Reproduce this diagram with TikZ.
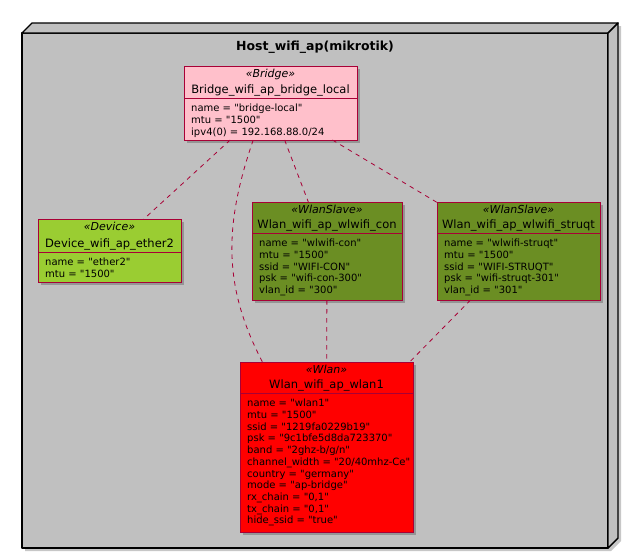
\documentclass[tikz,border=0pt]{standalone}
\usepackage{fontspec}
\setmainfont{DejaVu Sans}
\usetikzlibrary{shadows,calc}
\newcommand{\dq}{\XeTeXglyph\XeTeXcharglyph"22\relax}
\definecolor{umlborder}{HTML}{A80036}
\definecolor{hostfill}{HTML}{C0C0C0}
\definecolor{pinkc}{HTML}{FFC0CB}
\definecolor{ygreenc}{HTML}{9ACD32}
\definecolor{olivec}{HTML}{6B8E23}
\definecolor{redc}{HTML}{FF0000}
\tikzset{
  classbox/.style={draw=umlborder, line width=1pt, rectangle, inner sep=0pt, outer sep=0pt,
    drop shadow={shadow xshift=3pt, shadow yshift=-3pt, fill=black, opacity=0.22}},
  hostface/.style={draw=black, fill=hostfill, line width=1.4pt, line join=round},
  stereo/.style={font=\fontsize{11}{13}\selectfont\itshape, anchor=base, inner sep=0pt},
  cname/.style={font=\fontsize{11.5}{13}\selectfont, anchor=base, inner sep=0pt},
  attrs/.style={font=\fontsize{10}{11.7}\selectfont, anchor=north west, align=left, inner sep=0pt},
  sepline/.style={draw=umlborder, line width=1pt},
  link/.style={draw=umlborder, line width=0.8pt, dash pattern=on 4.5pt off 4.5pt},
}
\begin{document}
\begin{tikzpicture}[x=1pt,y=-1pt]
\useasboundingbox (0,0) rectangle (628,558);
% host node (3D box)
\fill[black,opacity=0.22] (25,36) -- (35,26) -- (621,26) -- (621,541) -- (611,551) -- (25,551) -- cycle;
\node[hostface, rectangle, inner sep=0pt, outer sep=0pt, minimum width=586pt, minimum height=515pt] (host) at (315,290.5) {};
\draw[hostface] (host.north west) -- ++(10,-10) -- ($(host.north east)+(10,-10)$) -- (host.north east) -- cycle;
\draw[hostface] (host.north east) -- ++(10,-10) -- ($(host.south east)+(10,-10)$) -- (host.south east) -- cycle;
\node[font=\bfseries\fontsize{12.5}{14}\selectfont, anchor=base, inner sep=0pt] (hosttitle) at (315,50.5) {Host\_wifi\_ap(mikrotik)};

% Bridge
\node[classbox, fill=pinkc, minimum width=173pt, minimum height=74pt] (bridge) at (270.5,103) {};
\draw[sepline] (bridge.west |- 0,98) -- (bridge.east |- 0,98);
\node[stereo] (bridgeS) at (270.5,77.5) {«Bridge»};
\node[cname] (bridgeN) at (270.5,93.5) {Bridge\_wifi\_ap\_bridge\_local};
\node[attrs] (bridgeA) at (191,104) {name = \dq bridge-local\dq\\mtu = \dq 1500\dq\\ipv4(0) = 192.168.88.0/24};

% Device
\node[classbox, fill=ygreenc, minimum width=143pt, minimum height=63pt] (device) at (109.5,250.5) {};
\draw[sepline] (device.west |- 0,252) -- (device.east |- 0,252);
\node[stereo] (deviceS) at (109.5,230.5) {«Device»};
\node[cname] (deviceN) at (109.5,247.5) {Device\_wifi\_ap\_ether2};
\node[attrs] (deviceA) at (45,258) {name = \dq ether2\dq\\mtu = \dq 1500\dq};

% WlanSlave con
\node[classbox, fill=olivec, minimum width=150pt, minimum height=98pt] (con) at (327,251) {};
\draw[sepline] (con.west |- 0,233) -- (con.east |- 0,233);
\node[stereo] (conS) at (327,213.5) {«WlanSlave»};
\node[cname] (conN) at (327,228.5) {Wlan\_wifi\_ap\_wlwifi\_con};
\node[attrs] (conA) at (259,239) {name = \dq wlwifi-con\dq\\mtu = \dq 1500\dq\\ssid = \dq WIFI-CON\dq\\psk = \dq wifi-con-300\dq\\vlan\_id = \dq 300\dq};

% WlanSlave struqt
\node[classbox, fill=olivec, minimum width=163pt, minimum height=98pt] (struqt) at (518.5,251) {};
\draw[sepline] (struqt.west |- 0,233) -- (struqt.east |- 0,233);
\node[stereo] (struqtS) at (518.5,213.5) {«WlanSlave»};
\node[cname] (struqtN) at (518.5,228.5) {Wlan\_wifi\_ap\_wlwifi\_struqt};
\node[attrs] (struqtA) at (444,239) {name = \dq wlwifi-struqt\dq\\mtu = \dq 1500\dq\\ssid = \dq WIFI-STRUQT\dq\\psk = \dq wifi-struqt-301\dq\\vlan\_id = \dq 301\dq};

% Wlan
\node[classbox, fill=redc, minimum width=173pt, minimum height=170pt] (wlan) at (326.5,447) {};
\draw[sepline] (wlan.west |- 0,393) -- (wlan.east |- 0,393);
\node[stereo] (wlanS) at (326.5,373.5) {«Wlan»};
\node[cname] (wlanN) at (326.5,388.5) {Wlan\_wifi\_ap\_wlan1};
\node[attrs] (wlanA) at (247,399) {name = \dq wlan1\dq\\mtu = \dq 1500\dq\\ssid = \dq 1219fa0229b19\dq\\psk = \dq 9c1bfe5d8da723370\dq\\band = \dq 2ghz-b/g/n\dq\\channel\_width = \dq 20/40mhz-Ce\dq\\country = \dq germany\dq\\mode = \dq ap-bridge\dq\\rx\_chain = \dq 0,1\dq\\tx\_chain = \dq 0,1\dq\\hide\_ssid = \dq true\dq};

% connectors
\draw[link] (bridge) -- (device);
\draw[link] (bridge) -- (con);
\draw[link] (bridge) -- (struqt);
\draw[link] (con) -- (wlan);
\draw[link] (struqt) -- (wlan);
\draw[link] (bridge.-115) .. controls (222,230) and (225,290) .. (wlan.127);
\end{tikzpicture}
\end{document}
